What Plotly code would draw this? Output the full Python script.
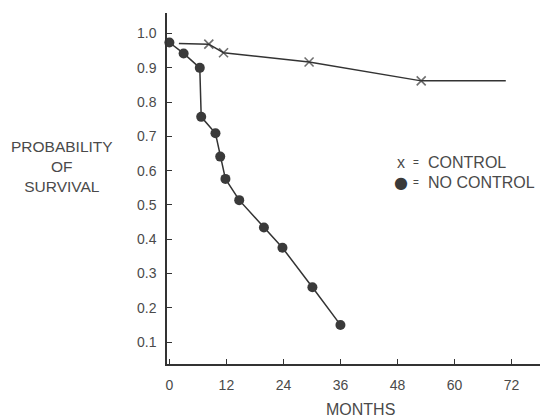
import plotly.graph_objects as go

# ---- data ----
control_months = [2.0, 8.3, 11.4, 29.4, 53.0, 70.8]
control_surv = [0.971, 0.969, 0.944, 0.917, 0.862, 0.862]
control_marked = [False, True, True, True, True, False]

nocontrol_months = [0, 3.0, 6.4, 6.7, 9.7, 10.7, 11.8, 14.7, 19.9, 23.8, 30.1, 36.0]
nocontrol_surv = [0.974, 0.942, 0.900, 0.757, 0.709, 0.641, 0.576, 0.514, 0.434, 0.375, 0.260, 0.150]

x_ticks = [0, 12, 24, 36, 48, 60, 72]
y_ticks = [0.1, 0.2, 0.3, 0.4, 0.5, 0.6, 0.7, 0.8, 0.9, 1.0]

FONT = "Liberation Sans"
TXT = "#4a4a4a"
INK = "#333333"

fig = go.Figure()

# control line
fig.add_trace(go.Scatter(
    x=control_months, y=control_surv, mode="lines+markers",
    line=dict(color=INK, width=1.5),
    marker=dict(symbol="x-thin", size=[9 if m else 0 for m in control_marked],
                line=dict(color=INK, width=1.6), color=INK),
    showlegend=False, hoverinfo="skip"))

# no control line
fig.add_trace(go.Scatter(
    x=nocontrol_months, y=nocontrol_surv, mode="lines+markers",
    line=dict(color=INK, width=1.5),
    marker=dict(symbol="circle", size=10, color="#3a3a3a", line=dict(width=0)),
    showlegend=False, hoverinfo="skip", cliponaxis=False))

fig.update_xaxes(
    range=[-0.5, 78], tickvals=x_ticks, ticktext=[str(v) for v in x_ticks],
    showline=True, linecolor=INK, linewidth=1.5, mirror=False,
    ticks="inside", ticklen=5, tickwidth=1.2, tickcolor=INK,
    showgrid=False, zeroline=False, ticklabelstandoff=7,
    tickfont=dict(family=FONT, size=14, color=TXT))
fig.update_yaxes(
    range=[0.036, 1.06], tickvals=y_ticks, ticktext=[f"{v:.1f}" for v in y_ticks],
    showline=True, linecolor=INK, linewidth=1.5, mirror=False,
    ticks="inside", ticklen=5, tickwidth=1.2, tickcolor=INK,
    showgrid=False, zeroline=False, ticklabelstandoff=6,
    tickfont=dict(family=FONT, size=14, color=TXT))

ann_font = dict(family=FONT, size=16, color=TXT)
annotations = [
    dict(text="PROBABILITY<br>OF<br>SURVIVAL", xref="paper", yref="paper",
         x=-0.2815, y=0.564, xanchor="center", yanchor="middle", showarrow=False,
         font=dict(family=FONT, size=15.5, color=TXT), align="center"),
    dict(text="MONTHS", xref="x", yref="paper", x=40.3, y=-0.131,
         xanchor="center", yanchor="middle", showarrow=False, font=ann_font),
    # legend
    dict(text="x", xref="x", yref="y", x=48.7, y=0.625, xanchor="center",
         yanchor="middle", showarrow=False, font=dict(family=FONT, size=16, color=TXT)),
    dict(text="=", xref="x", yref="y", x=52.0, y=0.623, xanchor="center",
         yanchor="middle", showarrow=False, font=dict(family=FONT, size=10, color=TXT)),
    dict(text="CONTROL", xref="x", yref="y", x=54.0, y=0.623, xanchor="left",
         yanchor="middle", showarrow=False, font=ann_font),
    dict(text="●", xref="x", yref="y", x=48.7, y=0.566, xanchor="center",
         yanchor="middle", showarrow=False, font=dict(family="DejaVu Sans", size=16, color="#3a3a3a")),
    dict(text="=", xref="x", yref="y", x=52.0, y=0.566, xanchor="center",
         yanchor="middle", showarrow=False, font=dict(family=FONT, size=10, color=TXT)),
    dict(text="NO CONTROL", xref="x", yref="y", x=54.0, y=0.566, xanchor="left",
         yanchor="middle", showarrow=False, font=ann_font),
]

fig.update_layout(
    width=544, height=420,
    margin=dict(l=167, r=4, t=13, b=56),
    paper_bgcolor="white", plot_bgcolor="white",
    annotations=annotations, showlegend=False)

fig.write_html("out.html")
